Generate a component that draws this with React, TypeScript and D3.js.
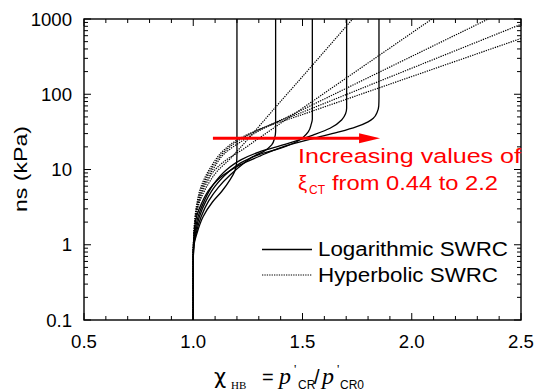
import React from "react";
import * as d3 from "d3";

// ---------- data (x = χHB, s in kPa) ----------
const xTickValues = [0.5, 1.0, 1.5, 2.0, 2.5];
const xTickLabels = ["0.5", "1.0", "1.5", "2.0", "2.5"];
const yTickValues = [0.1, 1, 10, 100, 1000];
const yTickLabels = ["0.1", "1", "10", "100", "1000"];

// Logarithmic SWRC (solid)
const logXi1: [number, number][] = [[1, 0.1], [1, 0.6], [1.004, 1.0], [1.017, 1.42], [1.045, 2.36], [1.088, 3.7], [1.13, 5.1], [1.168, 7.3], [1.19, 9.5], [1.198, 12], [1.2, 16], [1.2, 1000]];
const logXi2: [number, number][] = [[1, 0.1], [1, 0.6], [1.003, 1.0], [1.013, 1.42], [1.036, 2.36], [1.07, 3.8], [1.115, 5.8], [1.17, 8.5], [1.23, 12], [1.273, 14.8], [1.321, 17.3], [1.359, 21.2], [1.372, 26], [1.377, 32], [1.377, 1000]];
const logXi3: [number, number][] = [[1, 0.1], [1, 0.6], [1.002, 1.0], [1.01, 1.42], [1.028, 2.36], [1.058, 3.8], [1.1, 6], [1.16, 9.2], [1.23, 12.8], [1.3, 15.8], [1.397, 19.1], [1.473, 23.4], [1.527, 31.8], [1.54, 40], [1.545, 47], [1.545, 1000]];
const logXi4: [number, number][] = [[1, 0.1], [1, 0.6], [1.001, 1.0], [1.007, 1.42], [1.022, 2.36], [1.05, 3.8], [1.09, 6.2], [1.15, 9.8], [1.22, 13.5], [1.3, 17], [1.42, 21.5], [1.548, 28.7], [1.626, 35.3], [1.679, 45.5], [1.697, 55], [1.702, 65], [1.702, 1000]];
const logXi5: [number, number][] = [[1, 0.1], [1, 0.6], [1.001, 1.0], [1.004, 1.42], [1.015, 2.36], [1.039, 3.6], [1.077, 5.6], [1.138, 8.45], [1.214, 11.5], [1.305, 15.1], [1.42, 20.5], [1.58, 27.3], [1.672, 31.8], [1.748, 37.1], [1.8, 43], [1.824, 47.9], [1.842, 58], [1.849, 70], [1.85, 90], [1.85, 1000]];

// Hyperbolic SWRC (dotted)
const hypXi1: [number, number][] = [[1, 0.1], [1, 0.7], [1.003, 1.2], [1.01, 2], [1.022, 3.2], [1.06, 5.8], [1.11, 9.5], [1.17, 14], [1.22, 20.2], [1.3, 37.2], [1.366, 62], [1.5, 172], [1.76, 1268]];
const hypXi2: [number, number][] = [[1, 0.1], [1, 0.7], [1.003, 1.2], [1.009, 2], [1.02, 3.2], [1.055, 6.1], [1.105, 10.3], [1.16, 14], [1.214, 17.5], [1.3, 26], [1.5, 65.3], [1.809, 271], [2.15, 1303]];
const hypXi3: [number, number][] = [[1, 0.1], [1, 0.7], [1.002, 1.2], [1.008, 2], [1.018, 3.2], [1.05, 6.2], [1.095, 10.6], [1.15, 17], [1.214, 23], [1.3, 32.5], [1.5, 62.4], [2.0, 319], [2.4, 1175]];
const hypXi4: [number, number][] = [[1, 0.1], [1, 0.7], [1.002, 1.2], [1.007, 2], [1.016, 3.2], [1.045, 6.3], [1.09, 11], [1.14, 17], [1.214, 25], [1.3, 33.8], [1.5, 57.8], [2.0, 222], [2.5, 849]];
const hypXi5: [number, number][] = [[1, 0.1], [1, 0.7], [1.002, 1.2], [1.006, 2], [1.014, 3.2], [1.04, 6.4], [1.085, 11.3], [1.135, 17.5], [1.214, 26], [1.3, 33.8], [1.5, 53.8], [2.0, 172], [2.5, 551]];

const logCurves = [logXi1, logXi2, logXi3, logXi4, logXi5];
const hypCurves = [hypXi1, hypXi2, hypXi3, hypXi4, hypXi5];

// red arrow (data coordinates)
const arrowX = [1.09, 1.855];
const arrowS = 26;

const W = 536, H = 392;
const M = { left: 84, right: 521, top: 19, bottom: 320 };
const FONT = "'Liberation Sans', Arial, Helvetica, sans-serif";
const SERIF = "'Liberation Serif', 'Times New Roman', serif";

export default function App() {
  const x = d3.scaleLinear().domain([0.5, 2.5]).range([M.left, M.right]);
  const y = d3.scaleLog().domain([0.1, 1000]).range([M.bottom, M.top]);

  const line = d3
    .line<[number, number]>()
    .x((d) => x(d[0]))
    .y((d) => y(d[1]))
    .curve(d3.curveMonotoneY);

  const xMinor = x.ticks(20);
  const yMinor = y.ticks();
  const majL = 7, minL = 4;

  const ax = x(arrowX[0]);
  const bx = x(arrowX[1]);
  const ay = y(arrowS);
  const headLen = 21, headHalf = 5;

  return (
    <svg width={W} height={H} style={{ position: "absolute", left: 0, top: 0, background: "#fff" }}>
      <defs>
        <clipPath id="plot">
          <rect x={M.left} y={M.top} width={M.right - M.left} height={M.bottom - M.top} />
        </clipPath>
      </defs>
      <rect width={W} height={H} fill="#fff" />

      {/* ticks */}
      <g stroke="#000" strokeWidth={1}>
        {xMinor.map((v, i) => {
          const major = xTickValues.some((t) => Math.abs(t - v) < 1e-9);
          const L = major ? majL : minL;
          return (
            <g key={"xt" + i}>
              <line x1={x(v)} x2={x(v)} y1={M.bottom} y2={M.bottom - L} />
              <line x1={x(v)} x2={x(v)} y1={M.top} y2={M.top + L} />
            </g>
          );
        })}
        {yMinor.map((v, i) => {
          const major = yTickValues.some((t) => Math.abs(t - v) / t < 1e-9);
          const L = major ? majL : minL;
          return (
            <g key={"yt" + i}>
              <line x1={M.left} x2={M.left + L} y1={y(v)} y2={y(v)} />
              <line x1={M.right} x2={M.right - L} y1={y(v)} y2={y(v)} />
            </g>
          );
        })}
      </g>

      {/* curves */}
      <g clipPath="url(#plot)" fill="none" stroke="#000">
        {hypCurves.map((c, i) => (
          <path key={"h" + i} d={line(c) || ""} strokeWidth={1.2} strokeDasharray="1.3,1.1" />
        ))}
        {logCurves.map((c, i) => (
          <path key={"l" + i} d={line(c) || ""} strokeWidth={1.3} />
        ))}
      </g>

      {/* frame */}
      <rect x={M.left} y={M.top} width={M.right - M.left} height={M.bottom - M.top} fill="none" stroke="#000" strokeWidth={1.4} />

      {/* tick labels */}
      <g fontFamily={FONT} fontSize={18.6} fill="#000">
        {xTickValues.map((v, i) => (
          <text key={"xl" + i} x={x(v)} y={348} textAnchor="middle">{xTickLabels[i]}</text>
        ))}
        {yTickValues.map((v, i) => (
          <text key={"yl" + i} x={72} y={y(v) + 6.6} textAnchor="end">{yTickLabels[i]}</text>
        ))}
      </g>

      {/* y title */}
      <text
        transform="translate(27,169) rotate(-90)"
        textAnchor="middle"
        fontFamily={FONT}
        fontSize={19}
        textLength={86}
        lengthAdjust="spacingAndGlyphs"
      >
        ns (kPa)
      </text>

      {/* x title */}
      <g fontFamily={FONT} fill="#000">
        <text x={214} y={384} fontSize={21} fontFamily="'DejaVu Sans', sans-serif">χ</text>
        <text x={231} y={389} fontSize={11} fontFamily={SERIF}>HB</text>
        <text x={262} y={384} fontSize={20}>=</text>
        <text x={279} y={384} fontSize={24} fontStyle="italic" fontFamily={SERIF}>p</text>
        <text x={294} y={373} fontSize={13} fontFamily={SERIF}>'</text>
        <text x={298} y={389} fontSize={12}>CR</text>
        <text x={314} y={384} fontSize={20}>/</text>
        <text x={322} y={384} fontSize={24} fontStyle="italic" fontFamily={SERIF}>p</text>
        <text x={337} y={373} fontSize={13} fontFamily={SERIF}>'</text>
        <text x={340} y={389} fontSize={12}>CR0</text>
      </g>

      {/* red annotation */}
      <g>
        <line x1={ax} x2={bx - headLen + 2} y1={ay} y2={ay} stroke="#ff0000" strokeWidth={3} />
        <polygon
          points={`${bx},${ay} ${bx - headLen},${ay - headHalf} ${bx - headLen},${ay + headHalf}`}
          fill="#ff0000"
        />
        <text x={298} y={163} fill="#ff0000" fontFamily={FONT} fontSize={20.5} textLength={223} lengthAdjust="spacingAndGlyphs">
          Increasing values of
        </text>
        <text x={298} y={190} fill="#ff0000" fontFamily={FONT} fontSize={20.5}>ξ</text>
        <text x={309} y={194} fill="#ff0000" fontFamily={FONT} fontSize={12}>CT</text>
        <text x={332} y={190} fill="#ff0000" fontFamily={FONT} fontSize={20.5} textLength={166} lengthAdjust="spacingAndGlyphs">
          from 0.44 to 2.2
        </text>
      </g>

      {/* legend */}
      <g>
        <line x1={262} x2={312} y1={249.5} y2={249.5} stroke="#000" strokeWidth={1.3} />
        <line x1={262} x2={312} y1={275} y2={275} stroke="#000" strokeWidth={1.2} strokeDasharray="1.3,1.1" />
        <text x={318} y={256} fontFamily={FONT} fontSize={19.5} textLength={190} lengthAdjust="spacingAndGlyphs">
          Logarithmic SWRC
        </text>
        <text x={318} y={282} fontFamily={FONT} fontSize={19.5} textLength={180} lengthAdjust="spacingAndGlyphs">
          Hyperbolic SWRC
        </text>
      </g>
    </svg>
  );
}
